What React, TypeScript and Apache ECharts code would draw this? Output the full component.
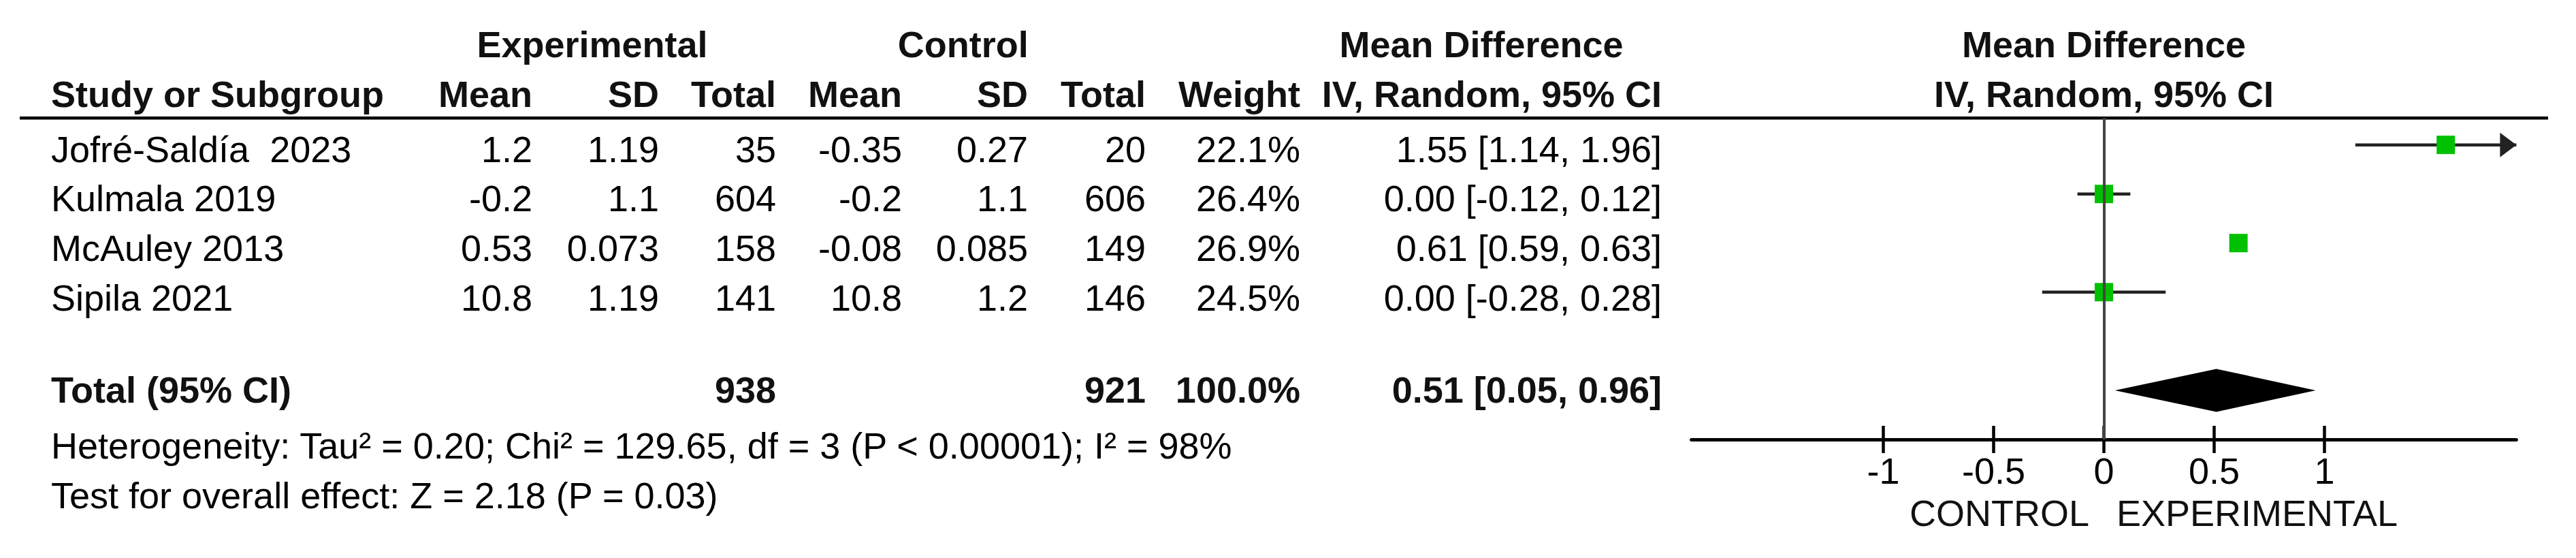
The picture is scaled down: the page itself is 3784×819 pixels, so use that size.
import React, { useEffect, useRef } from "react";
import * as echarts from "echarts";

// ---------- data ----------
const studies = ["Jofré-Saldía  2023", "Kulmala 2019", "McAuley 2013", "Sipila 2021"];
const expMean = [1.2, -0.2, 0.53, 10.8];
const expSD = [1.19, 1.1, 0.073, 1.19];
const expTotal = [35, 604, 158, 141];
const ctlMean = [-0.35, -0.2, -0.08, 10.8];
const ctlSD = [0.27, 1.1, 0.085, 1.2];
const ctlTotal = [20, 606, 149, 146];
const weights = [22.1, 26.4, 26.9, 24.5];
const meanDiff = [1.55, 0.0, 0.61, 0.0];
const ciLow = [1.14, -0.12, 0.59, -0.28];
const ciHigh = [1.96, 0.12, 0.63, 0.28];

const totalLabel = "Total (95% CI)";
const totalExp = 938;
const totalCtl = 921;
const totalWeight = 100.0;
const totalMD = 0.51;
const totalLow = 0.05;
const totalHigh = 0.96;

const heterogeneityText = "Heterogeneity: Tau² = 0.20; Chi² = 129.65, df = 3 (P < 0.00001); I² = 98%";
const overallEffectText = "Test for overall effect: Z = 2.18 (P = 0.03)";

const axisTicks = [-1, -0.5, 0, 0.5, 1];
const axisMin = -1.87;
const axisMax = 1.87;
const leftFavours = "CONTROL";
const rightFavours = "EXPERIMENTAL";

const headerTop = ["Experimental", "Control", "Mean Difference"];
const headerCols = ["Mean", "SD", "Total", "Mean", "SD", "Total", "Weight", "IV, Random, 95% CI"];
const plotHeader = ["Mean Difference", "IV, Random, 95% CI"];

// ---------- layout ----------
const W = 3784;
const H = 819;
const FONT = '"Liberation Sans", Arial, Helvetica, sans-serif';
const FS = 54;
const colRight = [782, 968, 1140, 1325, 1510, 1683, 1910, 2441];
const textLeft = 75;
const rowY0 = 218.5;
const rowStep = 72.8;
const totalRowIndex = 5;
const gridTop = 173;
const gridHeight = 472;

const fmtMD = (m: number, l: number, h: number) =>
  `${m.toFixed(2)} [${l.toFixed(2)}, ${h.toFixed(2)}]`;

function txt(text: string, x: number, y: number, align: string, bold = false, fill = "#000") {
  return {
    type: "text",
    x,
    y,
    silent: true,
    style: {
      text,
      fill,
      fontSize: FS,
      fontFamily: FONT,
      fontWeight: bold ? "bold" : "normal",
      align,
      textAlign: align,
      verticalAlign: "middle",
      textVerticalAlign: "middle",
    },
  };
}

export default function App() {
  const ref = useRef<HTMLDivElement>(null);

  useEffect(() => {
    document.body.style.margin = "0";
    const chart = echarts.init(ref.current!, null, { renderer: "svg" });

    const tickStyle = { color: "#000", width: 4.5 };

    chart.setOption({
      animation: false,
      backgroundColor: "#fff",
      grid: {
        left: 2484.6,
        top: gridTop,
        width: 1211.8,
        height: gridHeight,
        containLabel: false,
        outerBoundsMode: "none",
      },
      xAxis: [
        {
          type: "value",
          min: axisMin,
          max: axisMax,
          position: "bottom",
          axisLine: { show: true, onZero: false, lineStyle: { color: "#000", width: 5 } },
          axisTick: { show: true, customValues: axisTicks, length: 20, lineStyle: tickStyle },
          axisLabel: {
            show: true,
            customValues: axisTicks,
            fontSize: FS,
            fontFamily: FONT,
            color: "#000",
            margin: 19,
            formatter: (v: number) => String(v),
          },
          splitLine: { show: false },
        },
        {
          // upper half of the crossing ticks: a top axis shifted down onto the bottom line
          type: "value",
          min: axisMin,
          max: axisMax,
          position: "top",
          offset: -gridHeight,
          axisLine: { show: false, onZero: false },
          axisTick: { show: true, inside: false, customValues: axisTicks, length: 20, lineStyle: tickStyle },
          axisLabel: { show: false },
          splitLine: { show: false },
        },
      ],
      yAxis: {
        type: "value",
        inverse: true,
        min: -0.55,
        max: 6.0,
        show: false,
        splitLine: { show: false },
      },
      series: [
        {
          name: "ci",
          type: "custom",
          z: 2,
          silent: true,
          data: studies.map((_, i) => [i, ciLow[i], ciHigh[i]]),
          encode: { x: [1, 2], y: 0 },
          renderItem: (params: any, api: any) => {
            const y = api.value(0);
            const lo = api.value(1);
            const hi = api.value(2);
            const p1 = api.coord([Math.max(lo, axisMin), y]);
            const p2 = api.coord([Math.min(hi, axisMax), y]);
            const children: any[] = [
              {
                type: "line",
                shape: { x1: p1[0], y1: p1[1], x2: p2[0], y2: p2[1] },
                style: { stroke: "#222", lineWidth: 4.5 },
              },
            ];
            if (hi > axisMax) {
              children.push({
                type: "polygon",
                shape: {
                  points: [
                    [p2[0], p2[1]],
                    [p2[0] - 24, p2[1] - 18],
                    [p2[0] - 24, p2[1] + 18],
                  ],
                },
                style: { fill: "#222" },
              });
            }
            if (lo < axisMin) {
              children.push({
                type: "polygon",
                shape: {
                  points: [
                    [p1[0], p1[1]],
                    [p1[0] + 24, p1[1] - 18],
                    [p1[0] + 24, p1[1] + 18],
                  ],
                },
                style: { fill: "#222" },
              });
            }
            return { type: "group", children };
          },
          markLine: {
            silent: true,
            symbol: ["none", "none"],
            label: { show: false },
            lineStyle: { color: "#444", width: 4, type: "solid" },
            data: [{ xAxis: 0 }],
          },
        },
        {
          name: "total",
          type: "custom",
          z: 3,
          silent: true,
          data: [[totalRowIndex, totalLow, totalMD, totalHigh]],
          encode: { x: [1, 2, 3], y: 0 },
          renderItem: (params: any, api: any) => {
            const y = api.value(0);
            const a = api.coord([api.value(1), y]);
            const m = api.coord([api.value(2), y]);
            const b = api.coord([api.value(3), y]);
            const hh = 31.5;
            return {
              type: "polygon",
              shape: {
                points: [
                  [a[0], a[1]],
                  [m[0], m[1] - hh],
                  [b[0], b[1]],
                  [m[0], m[1] + hh],
                ],
              },
              style: { fill: "#000" },
            };
          },
        },
        {
          name: "studies",
          type: "scatter",
          z: 4,
          silent: true,
          symbol: "rect",
          symbolSize: 27,
          itemStyle: { color: "#00C000", opacity: 1 },
          data: studies.map((_, i) => [meanDiff[i], i]),
        },
      ],
    });

    const x0 = chart.convertToPixel({ xAxisIndex: 0 }, 0) as number;

    const g: any[] = [];
    // header rule
    g.push({
      type: "line",
      silent: true,
      shape: { x1: 29, y1: 173.3, x2: 3743, y2: 173.3 },
      style: { stroke: "#000", lineWidth: 4.5 },
    });
    // header row 1
    g.push(txt(headerTop[0], 870, 65, "center", true, "#111"));
    g.push(txt(headerTop[1], 1414.7, 65, "center", true, "#111"));
    g.push(txt(headerTop[2], 2176, 65, "center", true, "#111"));
    g.push(txt(plotHeader[0], x0, 65, "center", true, "#111"));
    // header row 2
    g.push(txt("Study or Subgroup", textLeft, 137.5, "left", true, "#111"));
    headerCols.forEach((h, c) => g.push(txt(h, colRight[c], 137.5, "right", true, "#111")));
    g.push(txt(plotHeader[1], x0, 137.5, "center", true, "#111"));

    // study rows
    studies.forEach((s, i) => {
      const y = rowY0 + i * rowStep;
      const cells = [
        String(expMean[i]),
        String(expSD[i]),
        String(expTotal[i]),
        String(ctlMean[i]),
        String(ctlSD[i]),
        String(ctlTotal[i]),
        weights[i].toFixed(1) + "%",
        fmtMD(meanDiff[i], ciLow[i], ciHigh[i]),
      ];
      g.push(txt(s, textLeft, y, "left"));
      cells.forEach((c, k) => g.push(txt(c, colRight[k], y, "right")));
    });

    // total row
    const ty = 572;
    g.push(txt(totalLabel, textLeft, ty, "left", true, "#111"));
    g.push(txt(String(totalExp), colRight[2], ty, "right", true, "#111"));
    g.push(txt(String(totalCtl), colRight[5], ty, "right", true, "#111"));
    g.push(txt(totalWeight.toFixed(1) + "%", colRight[6], ty, "right", true, "#111"));
    g.push(txt(fmtMD(totalMD, totalLow, totalHigh), colRight[7], ty, "right", true, "#111"));

    // footnotes
    g.push(txt(heterogeneityText, textLeft, 654, "left"));
    g.push(txt(overallEffectText, textLeft, 727, "left"));

    // favours labels
    g.push(txt(leftFavours, x0 - 21.5, 753.3, "right", false, "#111"));
    g.push(txt(rightFavours, x0 + 18.5, 753.3, "left", false, "#111"));

    chart.setOption({ graphic: g });

    return () => chart.dispose();
  }, []);

  return (
    <div
      ref={ref}
      style={{ position: "fixed", left: 0, top: 0, width: W, height: H, background: "#fff" }}
    />
  );
}
